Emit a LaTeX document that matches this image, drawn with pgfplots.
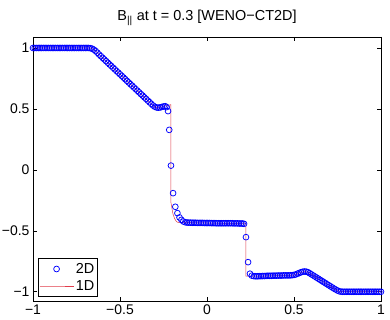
\documentclass[border=0pt]{standalone}
\usepackage{pgfplots}
\pgfplotsset{compat=1.18}
\usepackage{fontspec}
\setmainfont{Liberation Sans}
\begin{document}
\begin{tikzpicture}
\useasboundingbox (0,0) rectangle (390bp,320bp);
\begin{axis}[
  at={(33bp,18.5bp)}, anchor=south west,
  scale only axis, width=348bp, height=264.5bp,
  xmin=-1, xmax=1, ymin=-1.08, ymax=1.09,
  xtick={-1,-0.5,0,0.5,1}, xticklabels={−1,−0.5,0,0.5,1},
  ytick={-1,-0.5,0,0.5,1}, yticklabels={−1,−0.5,0,0.5,1},
  tick align=inside, major tick length=4bp,
  tick style={black, line width=0.5pt},
  axis line style={black, line width=0.6pt},
  ticklabel style={font=\fontsize{14}{16}\selectfont},
  title={B\textsubscript{||} at t = 0.3 [WENO−CT2D]},
  title style={font=\fontsize{14.5}{16}\selectfont, yshift=2bp},
  legend style={at={(0.0144,0.017)}, anchor=south west, draw=black, line width=0.6pt,
    font=\fontsize{14.5}{16}\selectfont, inner xsep=1bp, inner ysep=3bp,
    row sep=1.5bp},
  legend cell align=left,
  legend image code/.code={\draw[mark repeat=2,mark phase=2,#1] plot coordinates {(0cm,0cm) (0.6cm,0cm) (1.2cm,0cm)};},
]
\addplot[only marks, mark=o, mark size=2.9bp, blue, mark options={line width=0.75pt}] coordinates {
(-1.00,1.000)(-0.99,1.000)(-0.98,1.000)(-0.97,1.000)(-0.96,1.000)(-0.95,1.000)(-0.94,1.000)(-0.93,1.000)
(-0.92,1.000)(-0.91,1.000)(-0.90,1.000)(-0.89,1.000)(-0.88,1.000)(-0.87,1.000)(-0.86,1.000)(-0.85,1.000)
(-0.84,1.000)(-0.83,1.000)(-0.82,1.000)(-0.81,1.000)(-0.80,1.000)(-0.79,1.000)(-0.78,1.000)(-0.77,1.000)
(-0.76,1.000)(-0.75,1.000)(-0.74,1.000)(-0.73,1.000)(-0.72,1.000)(-0.71,1.000)(-0.70,1.000)(-0.69,1.000)
(-0.68,1.000)(-0.67,0.998)(-0.66,0.994)(-0.65,0.986)(-0.64,0.975)(-0.63,0.961)(-0.62,0.946)(-0.61,0.933)
(-0.60,0.919)(-0.59,0.906)(-0.58,0.892)(-0.57,0.879)(-0.56,0.865)(-0.55,0.852)(-0.54,0.838)(-0.53,0.825)
(-0.52,0.811)(-0.51,0.798)(-0.50,0.784)(-0.49,0.771)(-0.48,0.757)(-0.47,0.744)(-0.46,0.730)(-0.45,0.717)
(-0.44,0.703)(-0.43,0.690)(-0.42,0.676)(-0.41,0.663)(-0.40,0.649)(-0.39,0.636)(-0.38,0.622)(-0.37,0.609)
(-0.36,0.595)(-0.35,0.582)(-0.34,0.568)(-0.33,0.555)(-0.32,0.541)(-0.31,0.528)(-0.30,0.518)(-0.29,0.512)
(-0.28,0.510)(-0.27,0.512)(-0.26,0.516)(-0.25,0.520)(-0.24,0.522)(-0.232,0.515)(-0.224,0.482)(-0.217,0.328)
(-0.207,0.035)(-0.195,-0.191)(-0.182,-0.303)(-0.170,-0.355)(-0.158,-0.390)(-0.147,-0.410)(-0.136,-0.424)(-0.125,-0.430)
(-0.115,-0.432)(-0.105,-0.433)(-0.095,-0.433)(-0.085,-0.434)(-0.075,-0.434)(-0.065,-0.434)(-0.055,-0.435)(-0.045,-0.435)
(-0.035,-0.435)(-0.025,-0.435)(-0.015,-0.436)(-0.005,-0.436)(0.005,-0.436)(0.015,-0.436)(0.025,-0.437)(0.035,-0.437)
(0.045,-0.437)(0.055,-0.438)(0.065,-0.438)(0.075,-0.438)(0.085,-0.438)(0.095,-0.438)(0.105,-0.438)(0.115,-0.438)
(0.125,-0.438)(0.135,-0.438)(0.145,-0.438)(0.155,-0.439)(0.165,-0.439)(0.175,-0.439)(0.185,-0.440)(0.195,-0.440)
(0.204,-0.440)(0.213,-0.443)(0.224,-0.552)(0.236,-0.757)(0.247,-0.852)(0.258,-0.868)(0.27,-0.872)(0.28,-0.873)
(0.29,-0.873)(0.30,-0.872)(0.31,-0.872)(0.32,-0.871)(0.33,-0.871)(0.34,-0.870)(0.35,-0.869)(0.36,-0.869)
(0.37,-0.869)(0.38,-0.868)(0.39,-0.868)(0.40,-0.868)(0.41,-0.867)(0.42,-0.867)(0.43,-0.867)(0.44,-0.866)
(0.45,-0.866)(0.46,-0.866)(0.47,-0.866)(0.48,-0.865)(0.49,-0.864)(0.50,-0.862)(0.51,-0.858)(0.52,-0.852)
(0.53,-0.846)(0.54,-0.840)(0.55,-0.836)(0.56,-0.834)(0.57,-0.835)(0.58,-0.840)(0.59,-0.848)(0.60,-0.857)
(0.61,-0.866)(0.62,-0.875)(0.63,-0.884)(0.64,-0.893)(0.65,-0.902)(0.66,-0.911)(0.67,-0.920)(0.68,-0.929)
(0.69,-0.938)(0.70,-0.947)(0.71,-0.956)(0.72,-0.965)(0.73,-0.974)(0.74,-0.982)(0.75,-0.990)(0.76,-0.996)
(0.77,-0.999)(0.78,-1.000)(0.79,-1.000)(0.80,-1.000)(0.81,-1.000)(0.82,-1.000)(0.83,-1.000)(0.84,-1.000)
(0.85,-1.000)(0.86,-1.000)(0.87,-1.000)(0.88,-1.000)(0.89,-1.000)(0.90,-1.000)(0.91,-1.000)(0.92,-1.000)
(0.93,-1.000)(0.94,-1.000)(0.95,-1.000)(0.96,-1.000)(0.97,-1.000)(0.98,-1.000)(0.99,-1.000)(1.00,-1.000)
};
\addlegendentry{2D}
\addplot[color={rgb,255:red,225;green,60;blue,75}, line width=0.5pt, no marks] coordinates {
(-1.00,1.000)(-0.68,1.000)(-0.67,0.998)(-0.66,0.994)(-0.65,0.986)(-0.64,0.975)(-0.63,0.961)(-0.62,0.946)
(-0.32,0.541)(-0.31,0.528)(-0.30,0.518)(-0.29,0.512)(-0.28,0.510)(-0.26,0.516)(-0.24,0.524)(-0.22,0.530)
(-0.208,0.535)(-0.207,-0.270)(-0.196,-0.360)(-0.186,-0.400)(-0.176,-0.424)(-0.166,-0.432)
(0.000,-0.436)(0.223,-0.441)(0.224,-0.872)(0.30,-0.872)(0.49,-0.865)(0.51,-0.858)(0.53,-0.846)
(0.56,-0.835)(0.575,-0.837)(0.59,-0.848)(0.60,-0.857)(0.74,-0.982)(0.76,-0.996)(0.78,-1.000)(1.00,-1.000)
};
\addlegendentry{1D}
\end{axis}
\end{tikzpicture}
\end{document}
